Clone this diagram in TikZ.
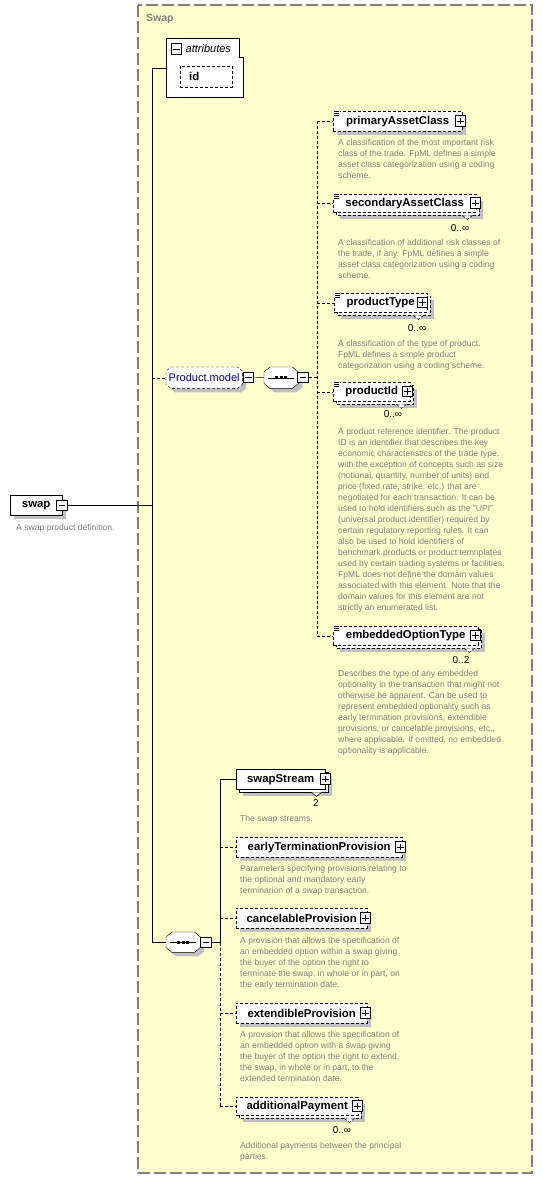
\documentclass[tikz,border=0pt]{standalone}
\usepackage{fontspec}
\setmainfont{Liberation Sans}
\usetikzlibrary{calc}
\definecolor{grpbg}{RGB}{255,255,204}
\definecolor{grpline}{RGB}{128,128,128}
\definecolor{shd}{RGB}{192,192,192}
\definecolor{desc}{RGB}{128,128,128}
\definecolor{pmblue}{RGB}{0,0,128}
\pgfdeclarelayer{back}\pgfdeclarelayer{bg}
\pgfsetlayers{back,bg,main}
\newcommand\elf{\fontsize{11.4}{13}\selectfont\bfseries}
\newcommand\dsf{\fontsize{8.6}{11}\selectfont}
\newcommand\shsingle[1]{\begin{pgfonlayer}{bg}\fill[shd] ([shift={(4,4)}]#1.north west) rectangle ([shift={(4,4)}]#1.south east);\end{pgfonlayer}}
\newcommand\shmulti[2]{\begin{pgfonlayer}{bg}\fill[shd] ([shift={(7,7)}]#1.north west) rectangle ([shift={(7,7)}]#1.south east);\draw[#2,fill=white] ([shift={(3,3)}]#1.north west) rectangle ([shift={(3,3)}]#1.south east);\end{pgfonlayer}}
\newcommand\notchv[2]{\draw[#2,fill=white,line width=0.6pt] ([shift={(-14,3)}]#1.south east) -- ([shift={(-9,7)}]#1.south east) -- ([shift={(-4,3)}]#1.south east);}
\newcommand\simpleic[1]{\fill[white] ([shift={(-1,-1)}]#1.north west) rectangle ([shift={(7,5)}]#1.north west);
  \draw[line width=0.5pt] ([shift={(1,0.5)}]#1.north west) -- ++(5,0) ([shift={(1,2.2)}]#1.north west) -- ++(5,0) ([shift={(1,3.9)}]#1.north west) -- ++(5,0);}
% #1 node, #2 chamfer x, #3 chamfer y, #4 style, #5 offset x, #6 offset y (canvas)
\newcommand\octo[6]{\path[#4] ([xshift=#2+#5,yshift=#6]#1.north west) -- ([xshift=-#2+#5,yshift=#6]#1.north east) -- ([xshift=#5,yshift=-#3+#6]#1.north east) -- ([xshift=#5,yshift=#3+#6]#1.south east) -- ([xshift=-#2+#5,yshift=#6]#1.south east) -- ([xshift=#2+#5,yshift=#6]#1.south west) -- ([xshift=#5,yshift=#3+#6]#1.south west) -- ([xshift=#5,yshift=-#3+#6]#1.north west) -- cycle;}
\begin{document}
\begin{tikzpicture}[x=1pt,y=-1pt,line width=0.9pt,
  elem/.style={draw, fill=white, font=\elf, inner sep=0pt, minimum height=20pt, anchor=north west},
  opt/.style={dash pattern=on 3pt off 2pt},
  dsc/.style={font=\dsf, text=desc, align=left, anchor=north west, inner sep=0pt},
  card/.style={font=\fontsize{10}{12}\selectfont, inner sep=0pt},
  plusic/.style={draw, fill=white, minimum size=10.5pt, inner sep=0pt, line width=1pt,
    path picture={\draw[line width=1pt] ([xshift=2pt]path picture bounding box.west)--([xshift=-2pt]path picture bounding box.east) ([yshift=-2pt]path picture bounding box.north)--([yshift=2pt]path picture bounding box.south);}},
  minusic/.style={draw, fill=white, minimum size=10.5pt, inner sep=0pt, line width=1pt,
    path picture={\draw[line width=1pt] ([xshift=2pt]path picture bounding box.west)--([xshift=-2pt]path picture bounding box.east);}}
]
\useasboundingbox (0,0) rectangle (543,1179);
\begin{pgfonlayer}{back}
\fill[white] (0,0) rectangle (543,1179);
\draw[grpline, line width=1.1pt, dash pattern=on 12pt off 4pt, fill=grpbg] (138,5) rectangle (532,1173);
\end{pgfonlayer}
\node[anchor=west, font=\fontsize{10.5}{12}\selectfont\bfseries, text=grpline, inner sep=0pt] (lbl) at (146,18.5) {Swap};

\coordinate (tr0) at (152,0);
\coordinate (tr1) at (317,0);
\coordinate (tr2) at (220,0);

% swap
\node[elem, minimum width=52pt] (swap) at (10,495) {swap};
\shsingle{swap}
\node[minusic] (swapm) at (62,505.5) {};
\node[dsc] (swapd) at (16,524) {A swap product definition.};

% attributes
\node[inner sep=0pt, minimum width=77pt, minimum height=59pt, anchor=north west] (attr) at (166,38) {};
\draw[fill=white] (attr.north west) -- ([xshift=-4pt]attr.north east) -- ([xshift=-4pt,yshift=-19pt]attr.north east) -- ([yshift=-19pt]attr.north east) -- (attr.south east) -- (attr.south west) -- cycle;
\node[minusic] (attrm) at (176.5,49) {};
\node[anchor=west, font=\fontsize{11}{13}\selectfont\itshape, inner sep=0pt] (attrt) at (185.5,48.5) {attributes};
\node[elem, opt, minimum height=21pt, text width=52pt, align=left] (id) at (180,66) {\hspace*{9pt}id};
\shsingle{id}

% Product.model
\node[inner sep=0pt, minimum width=76pt, minimum height=21pt, anchor=north west, font=\fontsize{11}{13}\selectfont, text=pmblue] (pm) at (166,367) {Product.model};
\begin{pgfonlayer}{bg}
\octo{pm}{5pt}{4pt}{fill=shd}{4pt}{-4pt}
\octo{pm}{5pt}{4pt}{draw, fill=white, opt}{0pt}{0pt}
\end{pgfonlayer}
\node[minusic] (pmm) at (248.5,377.5) {};

% sequence 1
\node[inner sep=0pt, minimum width=34pt, minimum height=21pt, anchor=north west] (s1) at (264,367) {};
\begin{pgfonlayer}{bg}
\octo{s1}{6pt}{5pt}{fill=shd}{4pt}{-4pt}
\octo{s1}{6pt}{5pt}{draw, fill=white}{0pt}{0pt}
\end{pgfonlayer}
\draw ([xshift=4pt]s1.west) -- ([xshift=-4pt]s1.east);
\foreach \dx in {-4.5,0,4.5} \fill ([shift={(\dx-1.4,-1.4)}]s1.center) rectangle ([shift={(\dx+1.4,1.4)}]s1.center);
\node[minusic] (s1m) at (303,377.5) {};

% sequence 2
\node[inner sep=0pt, minimum width=34pt, minimum height=20pt, anchor=north west] (s2) at (166,932) {};
\begin{pgfonlayer}{bg}
\octo{s2}{6pt}{5pt}{fill=shd}{4pt}{-4pt}
\octo{s2}{6pt}{5pt}{draw, fill=white}{0pt}{0pt}
\end{pgfonlayer}
\draw ([xshift=4pt]s2.west) -- ([xshift=-4pt]s2.east);
\foreach \dx in {-4.5,0,4.5} \fill ([shift={(\dx-1.4,-1.4)}]s2.center) rectangle ([shift={(\dx+1.4,1.4)}]s2.center);
\node[minusic] (s2m) at (206,942.5) {};

% Product.model children
\node[elem, opt, minimum width=129pt] (pac) at (333,111) {primaryAssetClass};
\shsingle{pac}
\simpleic{pac}
\node[plusic] (pacp) at (460.5,121) {};
\node[dsc] (pacd) at (338,139.5) {A classification of the most important risk\\class of the trade. FpML defines a simple\\asset class categorization using a coding\\scheme.};

\node[elem, opt, minimum width=143pt, minimum height=18pt] (sac) at (333,194) {secondaryAssetClass};
\shmulti{sac}{opt}
\simpleic{sac}
\notchv{sac}{opt}
\node[plusic] (sacp) at (475.5,203) {};
\node[card] (sacc) at (460,228) {0..∞};
\node[dsc] (sacd) at (338,239.5) {A classification of additional risk classes of\\the trade, if any. FpML defines a simple\\asset class categorization using a coding\\scheme.};

\node[elem, opt, minimum width=93pt, minimum height=19pt] (pt) at (334,293) {productType};
\shmulti{pt}{opt}
\simpleic{pt}
\notchv{pt}{opt}
\node[plusic] (ptp) at (422.5,302.5) {};
\node[card] (ptc) at (417,328) {0..∞};
\node[dsc] (ptd) at (338,340.5) {A classification of the type of product.\\FpML defines a simple product\\categorization using a coding scheme.};

\node[elem, opt, minimum width=77pt, minimum height=19pt] (pid) at (333,382) {productId};
\shmulti{pid}{opt}
\simpleic{pid}
\notchv{pid}{opt}
\node[plusic] (pidp) at (407.5,391.5) {};
\node[card] (pidc) at (393,414) {0..∞};
\node[dsc] (pidd) at (338,428.5) {A product reference identifier. The product\\ID is an identifier that describes the key\\economic characteristics of the trade type,\\with the exception of concepts such as size\\(notional, quantity, number of units) and\\price (fixed rate, strike, etc.) that are\\negotiated for each transaction. It can be\\used to hold identifiers such as the "UPI"\\(universal product identifier) required by\\certain regulatory reporting rules. It can\\also be used to hold identifiers of\\benchmark products or product temnplates\\used by certain trading systems or facilities.\\FpML does not define the domain values\\associated with this element. Note that the\\domain values for this element are not\\strictly an enumerated list.};

\node[elem, opt, minimum width=145pt, minimum height=19pt] (eot) at (333,626) {embeddedOptionType};
\shmulti{eot}{opt}
\simpleic{eot}
\notchv{eot}{opt}
\node[plusic] (eotp) at (475.5,635.5) {};
\node[card] (eotc) at (461,660) {0..2};
\node[dsc] (eotd) at (338,670.5) {Describes the type of any embedded\\optionality in the transaction that might not\\otherwise be apparent. Can be used to\\represent embedded optionality such as\\early termination provisions, extendible\\provisions, or cancelable provisions, etc.,\\where applicable. If omitted, no embedded\\optionality is applicable.};

% sequence 2 children
\node[elem, minimum width=89pt] (sst) at (236,769) {swapStream};
\shmulti{sst}{}
\notchv{sst}{}
\node[plusic] (sstp) at (325.5,779) {};
\node[card] (sstc) at (316,803) {2};
\node[dsc] (sstd) at (240,815.5) {The swap streams.};

\node[elem, opt, minimum width=166pt] (etp) at (236,837) {earlyTerminationProvision};
\shsingle{etp}
\node[plusic] (etpp) at (400.5,847) {};
\node[dsc] (etpd) at (240,865.5) {Parameters specifying provisions relating to\\the optional and mandatory early\\terminarion of a swap transaction.};

\node[elem, opt, minimum width=131pt] (cp) at (236,908) {cancelableProvision};
\shsingle{cp}
\node[plusic] (cpp) at (365.5,918) {};
\node[dsc] (cpd) at (240,937.5) {A provision that allows the specification of\\an embedded option within a swap giving\\the buyer of the option the right to\\terminate the swap, in whole or in part, on\\the early termination date.};

\node[elem, opt, minimum width=131pt] (ep) at (236,1003) {extendibleProvision};
\shsingle{ep}
\node[plusic] (epp) at (365.5,1013) {};
\node[dsc] (epd) at (240,1031.5) {A provision that allows the specification of\\an embedded option with a swap giving\\the buyer of the option the right to extend\\the swap, in whole or in part, to the\\extended termination date.};

\node[elem, opt, minimum width=122pt, minimum height=18pt] (ap) at (236,1097) {additionalPayment};
\shmulti{ap}{opt}
\notchv{ap}{opt}
\node[plusic] (app) at (357.5,1106) {};
\node[card] (apc) at (342,1130) {0..∞};
\node[dsc] (apd) at (240,1142.5) {Additional payments between the principal\\parties.};

% connectors
\draw (attr.west -| tr0) -- (attr.west);
\draw (attr.west -| tr0) -- (s2.west -| tr0) -- (s2.west);
\draw (swapm.east) -- (swapm.east -| tr0);
\draw[opt] (pm.west -| tr0) -- (pm.west);
\draw (pmm.east) -- (s1.west);
\draw[opt] (s1m.east) -- (s1m.east -| tr1);
\draw[opt] (pac.west -| tr1) -- (eot.west -| tr1);
\foreach \n in {pac,sac,pt,pid,eot} \draw[opt] (\n.west -| tr1) -- (\n.west);
\draw (s2m.east) -- (s2m.east -| tr2);
\draw (sst.west -| tr2) -- (s2m.east -| tr2);
\draw[opt] (s2m.east -| tr2) -- (ap.west -| tr2);
\draw (sst.west -| tr2) -- (sst.west);
\foreach \n in {etp,cp,ep,ap} \draw[opt] (\n.west -| tr2) -- (\n.west);
\end{tikzpicture}
\end{document}
